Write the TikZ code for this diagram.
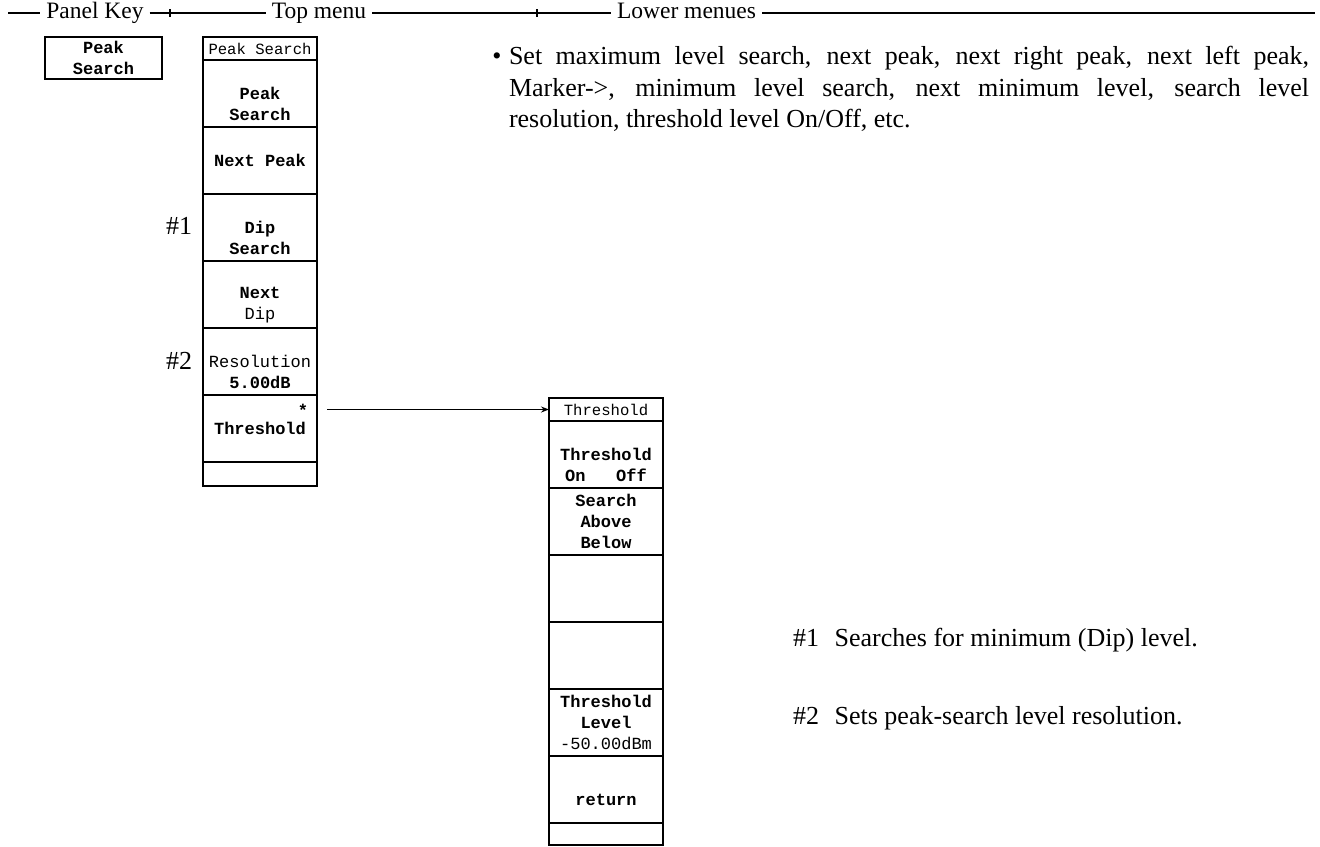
\documentclass[tikz,border=0pt]{standalone}
\usepackage{fontspec}
\setmainfont{Liberation Serif}
\setmonofont{Liberation Mono}
\usetikzlibrary{calc, positioning, arrows.meta}

\begin{document}
\begin{tikzpicture}[x=0.5pt, y=-0.5pt, line width=0.7pt,
  every node/.style={inner sep=0pt, outer sep=0pt},
  cellbox/.style={draw, minimum width=57pt, minimum height=#1},
  cellbox/.default=33.5pt,
  keytext/.style={font=\fontsize{8.5}{10.5}\selectfont\ttfamily\bfseries, align=center},
  titletext/.style={font=\fontsize{7.8}{9}\selectfont\ttfamily},
  headtext/.style={font=\fontsize{11.75}{14}\selectfont, inner xsep=3pt,
                   text height=8pt, text depth=2.5pt},
  bodytext/.style={font=\fontsize{13}{15.5}\selectfont,
                   text height=9pt, text depth=3pt}]
  \useasboundingbox (0,0) rectangle (1320,846);
  \def\cellh{67}

  % Header ruler
  \coordinate (h0) at (8,13);
  \coordinate (h1) at (1315,13);
  \node[headtext] (hpk) at (95,13) {Panel Key};
  \node[headtext] (htm) at (319,13) {Top menu};
  \node[headtext] (hlm) at (686.5,13) {Lower menues};
  \draw (h0) -- (hpk.west) (hpk.east) -- (htm.west)
        (htm.east) -- (hlm.west) (hlm.east) -- (h1);
  \foreach \tx in {170, 537}
    \draw (\tx,9) -- (\tx,17);

  % Panel key
  \node[cellbox=21pt, minimum width=58.5pt, keytext] (pkey) at (103.5,58) {Peak\\Search};

  % Top menu column
  \node[cellbox=11.5pt, titletext] (tTitle) at (260,48.5) {Peak Search};
  \foreach \k/\lab/\dy in {0/{Peak\\Search}/10.5, 1/{Next Peak}/0,
                          2/{Dip\\Search}/10.5, 3/{Next\\{\mdseries Dip}}/10.5,
                          4/{{\mdseries Resolution}\\5.00dB}/10.5, 5/{Threshold}/0} {
    \node[cellbox] (top\k) at (260, 93.5+\k*\cellh) {};
    \node[keytext] (topl\k) at ([yshift=-\dy*0.5pt]top\k.center) {\lab};
  }
  \node[cellbox=12pt] (top6) at (260,474) {};
  \node[keytext] (star) at (303,410) {*};
  \node[bodytext, anchor=east] (m1) at (192,228) {\#1};
  \node[bodytext, anchor=east] (m2) at (192,363) {\#2};

  % Lower menu: Threshold
  \node[cellbox=11.5pt, titletext] (thTitle) at (606,409.5) {Threshold};
  \foreach \k/\lab/\dy in {0/{Threshold\\On\ \ \ Off}/10.5, 1/{Search\\Above\\Below}/0,
                          2/{}/0, 3/{}/0,
                          4/{Threshold\\Level\\{\mdseries -50.00dBm}}/0, 5/{return}/10.5} {
    \node[cellbox] (th\k) at (606, 454.5+\k*\cellh) {};
    \node[keytext] (thl\k) at ([yshift=-\dy*0.5pt]th\k.center) {\lab};
  }
  \node[cellbox=11pt] (th6) at (606,834) {};

  \draw[-{Stealth[length=4pt, width=3pt]}] ([xshift=5pt]top5.east |- thTitle.west) -- (thTitle.west);

  % Description
  \node[bodytext] (bul) at (497,58) {•};
  \node[bodytext, anchor=west] (par1) at (509,58)
    {\makebox[400pt][s]{Set maximum level search, next peak, next right peak, next left peak,}};
  \node[bodytext, anchor=west] (par2) at (509,90)
    {\makebox[400pt][s]{Marker->, minimum level search, next minimum level, search level}};
  \node[bodytext, anchor=west] (par3) at (509,121) {resolution, threshold level On/Off, etc.};

  % Notes
  \node[bodytext, anchor=west] (note1) at (793,640) {\#1\hspace{0.6em}Searches for minimum (Dip) level.};
  \node[bodytext, anchor=west] (note2) at (793,718) {\#2\hspace{0.6em}Sets peak-search level resolution.};
\end{tikzpicture}
\end{document}
